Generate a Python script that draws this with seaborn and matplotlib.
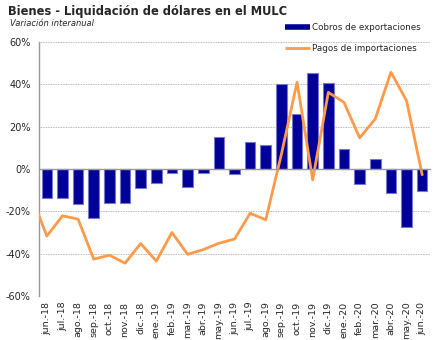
import numpy as np
import pandas as pd
import matplotlib
matplotlib.use("Agg")
import matplotlib.pyplot as plt
import seaborn as sns
from matplotlib.lines import Line2D

months = ["jun.-18", "jul.-18", "ago.-18", "sep.-18", "oct.-18", "nov.-18", "dic.-18",
          "ene.-19", "feb.-19", "mar.-19", "abr.-19", "may.-19", "jun.-19", "jul.-19",
          "ago.-19", "sep.-19", "oct.-19", "nov.-19", "dic.-19", "ene.-20", "feb.-20",
          "mar.-20", "abr.-20", "may.-20", "jun.-20"]
cobros = [-13.7, -13.6, -16.5, -23.2, -16.0, -16.2, -8.9, -6.8, -1.8, -8.4, -2.0, 15.1,
          -2.3, 12.9, 11.5, 40.2, 26.1, 45.4, 40.8, 9.3, -7.1, 4.7, -11.5, -27.3, -10.4]
# line series starts one month earlier (may-18), clipped at the axis edge
pagos_months = ["may.-18"] + months
pagos = [-12.4, -31.7, -22.1, -23.7, -42.6, -40.7, -44.5, -35.2, -43.5, -30.0, -40.3,
         -38.1, -35.1, -33.1, -20.9, -24.0, 7.0, 41.0, -5.2, 36.2, 31.5, 14.7, 23.7,
         45.7, 32.3, -2.7]
yticks = [-60, -40, -20, 0, 20, 40, 60]

sns.set_style("white")
plt.rcParams['font.family'] = ['DejaVu Sans']

bar_color = "#000099"
line_color = "#FF9A4A"

fig = plt.figure(figsize=(4.42, 3.40), dpi=100)
ax = fig.add_axes([39/442, 1-296/340, (430-39)/442, (296-42)/340])

df_bar = pd.DataFrame({"mes": months, "valor": cobros})
sns.barplot(data=df_bar, x="mes", y="valor", color=bar_color, saturation=1,
            width=0.68, edgecolor="#7777cc", linewidth=0.8, ax=ax, zorder=3)

df_line = pd.DataFrame({"pos": np.arange(-1, len(months)), "valor": pagos})
sns.lineplot(data=df_line, x="pos", y="valor", color=line_color, linewidth=2.0,
             ax=ax, zorder=4, clip_on=True)

ax.set_xlim(-0.5, len(months) - 0.5)
ax.set_ylim(-60, 60)
ax.set_xlabel("")
ax.set_ylabel("")

# gridlines
for v in yticks:
    if v != 0:
        ax.axhline(v, color="#a0a0a0", linewidth=0.6, linestyle=(0, (1, 1)), zorder=1)

ax.set_yticks(yticks)
ax.set_yticklabels([f"{v}%" for v in yticks], fontsize=7)
ax.tick_params(axis="y", direction="out", length=4, width=0.8, color="#999999", pad=2)

for s in ["top", "right"]:
    ax.spines[s].set_visible(False)
ax.spines["left"].set_color("#999999")
ax.spines["left"].set_linewidth(1.0)
ax.spines["bottom"].set_position(("data", 0))
ax.spines["bottom"].set_color("#999999")
ax.spines["bottom"].set_linewidth(1.0)
ax.spines["bottom"].set_zorder(5)
ax.set_xticks(np.arange(-0.5, len(months), 1.0))
ax.set_xticklabels([])
ax.tick_params(axis="x", direction="out", length=3, width=0.8, color="#999999")

sec = ax.secondary_xaxis("bottom")
sec.set_xticks(np.arange(len(months)))
sec.set_xticklabels(months, rotation=90, fontsize=6.8)
sec.tick_params(length=0, pad=4)
sec.spines["bottom"].set_visible(False)

fig.text(8/442, 1-12/340, "Bienes - Liquidación de dólares en el MULC",
         fontsize=8.3, fontweight="bold", va="center", ha="left")
fig.text(10/442, 1-23/340, "Variación interanual", fontsize=6, style="italic",
         va="center", ha="left")

handles = [Line2D([0], [0], color=bar_color, linewidth=4, solid_capstyle="butt"),
           Line2D([0], [0], color=line_color, linewidth=2, solid_capstyle="butt")]
fig.legend(handles, ["Cobros de exportaciones", "Pagos de importaciones"],
           loc="upper left", bbox_to_anchor=(281/442, 1-20/340), frameon=False,
           fontsize=6.3, handlelength=2.9, handletextpad=0.3, labelspacing=1.35,
           borderaxespad=0)

fig.savefig("out.png", dpi=100)
